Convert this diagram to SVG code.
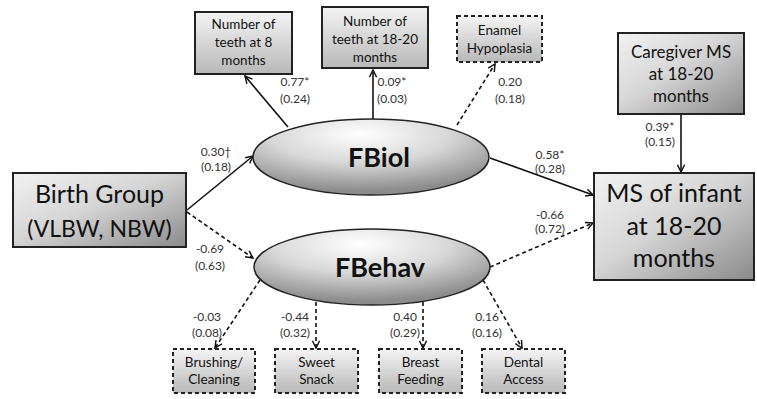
<svg xmlns="http://www.w3.org/2000/svg" width="757" height="399" viewBox="0 0 757 399">
<style>
text{font-family:Lato,"Liberation Sans",sans-serif;fill:#111;text-anchor:middle}
.lbl{font-size:12px;fill:#333}
.sm{font-size:13.5px}
.box{stroke:#222;stroke-width:2}
.dbox{stroke:#222;stroke-width:2;stroke-dasharray:4,3}
.c{stroke:#111;stroke-width:1.6;fill:none;marker-end:url(#ah)}
.d{stroke:#111;stroke-width:1.6;fill:none;stroke-dasharray:4,3;marker-end:url(#ah)}
.big{font-size:25px}
.lat{font-size:27px;font-weight:bold}
</style>
<defs>
<linearGradient id="gb" x1="0" y1="0" x2="1" y2="1">
<stop offset="0" stop-color="#f2f2f2"/><stop offset="0.45" stop-color="#d6d6d6"/><stop offset="1" stop-color="#8a8a8a"/>
</linearGradient>
<linearGradient id="gs" x1="0" y1="0" x2="0" y2="1">
<stop offset="0" stop-color="#f4f4f4"/><stop offset="1" stop-color="#b8b8b8"/>
</linearGradient>
<radialGradient id="ge" cx="0.45" cy="0.2" r="0.75">
<stop offset="0" stop-color="#ffffff"/><stop offset="0.5" stop-color="#d8d8d8"/><stop offset="1" stop-color="#8c8c8c"/>
</radialGradient>
<marker id="ah" viewBox="0 0 10 10" refX="9" refY="5" markerWidth="9" markerHeight="9" markerUnits="userSpaceOnUse" orient="auto">
<path d="M1,1 L9,5 L1,9" fill="none" stroke="#111" stroke-width="1.6"/>
</marker>
</defs>
<g id="connectors">
<line class="c" x1="288" y1="127" x2="245" y2="76"/>
<line class="c" x1="373" y1="119" x2="373" y2="70"/>
<line class="d" x1="457" y1="125" x2="495" y2="64"/>
<line class="c" x1="187" y1="210" x2="253" y2="156"/>
<line class="d" x1="187" y1="212" x2="253" y2="258"/>
<line class="c" x1="490" y1="158" x2="593" y2="195"/>
<line class="d" x1="490" y1="267" x2="593" y2="223"/>
<line class="c" x1="681" y1="114" x2="681" y2="172"/>
<line class="d" x1="260" y1="280" x2="215" y2="348"/>
<line class="d" x1="316" y1="302" x2="316" y2="348"/>
<line class="d" x1="423" y1="302" x2="423" y2="348"/>
<line class="d" x1="483" y1="280" x2="522" y2="348"/>
<text class="lbl" x="295" y="86">0.77*</text><text class="lbl" x="295" y="103">(0.24)</text>
<text class="lbl" x="392" y="86">0.09*</text><text class="lbl" x="392" y="103">(0.03)</text>
<text class="lbl" x="510" y="86">0.20</text><text class="lbl" x="510" y="103">(0.18)</text>
<text class="lbl" x="216" y="156">0.30†</text><text class="lbl" x="216" y="171">(0.18)</text>
<text class="lbl" x="210" y="253">-0.69</text><text class="lbl" x="210" y="270">(0.63)</text>
<text class="lbl" x="550" y="159">0.58*</text><text class="lbl" x="550" y="173">(0.28)</text>
<text class="lbl" x="550" y="219">-0.66</text><text class="lbl" x="550" y="233">(0.72)</text>
<text class="lbl" x="660" y="131">0.39*</text><text class="lbl" x="660" y="146">(0.15)</text>
<text class="lbl" x="207" y="321">-0.03</text><text class="lbl" x="207" y="337">(0.08)</text>
<text class="lbl" x="295" y="321">-0.44</text><text class="lbl" x="295" y="337">(0.32)</text>
<text class="lbl" x="405" y="321">0.40</text><text class="lbl" x="405" y="337">(0.29)</text>
<text class="lbl" x="487" y="321">0.16</text><text class="lbl" x="487" y="337">(0.16)</text>
</g>
<g id="teeth8"><rect class="box" x="195" y="12" width="97" height="62" fill="url(#gs)"/>
<text class="sm" x="243.5" y="29">Number of</text><text class="sm" x="243.5" y="47">teeth at 8</text><text class="sm" x="243.5" y="65">months</text></g>
<g id="teeth18"><rect class="box" x="322" y="7" width="106" height="61" fill="url(#gs)"/>
<text class="sm" x="375" y="26">Number of</text><text class="sm" x="375" y="44">teeth at 18-20</text><text class="sm" x="375" y="62">months</text></g>
<g id="enamel"><rect class="dbox" x="457" y="16" width="85" height="46" fill="url(#gs)"/>
<text class="sm" x="499.5" y="35">Enamel</text><text class="sm" x="499.5" y="53">Hypoplasia</text></g>
<g id="caregiver"><rect class="box" x="618" y="33" width="126" height="81" fill="url(#gb)"/>
<text x="681" y="58" font-size="17">Caregiver MS</text><text x="681" y="80" font-size="17">at 18-20</text><text x="681" y="102" font-size="17">months</text></g>
<g id="birth"><rect class="box" x="13" y="173" width="173" height="74" fill="url(#gb)"/>
<text class="big" x="99.5" y="203">Birth Group</text><text x="99.5" y="237" font-size="23">(VLBW, NBW)</text></g>
<g id="ms"><rect class="box" x="594" y="173" width="160" height="107" fill="url(#gb)"/>
<text class="big" x="674" y="202" font-size="26">MS of infant</text><text class="big" x="674" y="235">at 18-20</text><text class="big" x="674" y="267">months</text></g>
<g id="fbiol"><ellipse cx="371" cy="157" rx="118" ry="38" fill="url(#ge)" stroke="#222" stroke-width="1.5"/>
<text class="lat" x="379" y="167" font-size="28">FBiol</text></g>
<g id="fbehav"><ellipse cx="372" cy="267" rx="118" ry="38" fill="url(#ge)" stroke="#222" stroke-width="1.5"/>
<text class="lat" x="380" y="277">FBehav</text></g>
<g id="brushing"><rect class="dbox" x="173" y="349" width="82" height="44" fill="url(#gs)"/>
<text class="sm" x="214" y="367">Brushing/</text><text class="sm" x="214" y="384">Cleaning</text></g>
<g id="sweet"><rect class="dbox" x="275" y="349" width="83" height="44" fill="url(#gs)"/>
<text class="sm" x="316.5" y="367">Sweet</text><text class="sm" x="316.5" y="384">Snack</text></g>
<g id="breast"><rect class="dbox" x="379" y="349" width="83" height="44" fill="url(#gs)"/>
<text class="sm" x="420.5" y="367">Breast</text><text class="sm" x="420.5" y="384">Feeding</text></g>
<g id="dental"><rect class="dbox" x="482" y="349" width="83" height="44" fill="url(#gs)"/>
<text class="sm" x="523.5" y="367">Dental</text><text class="sm" x="523.5" y="384">Access</text></g>
</svg>
